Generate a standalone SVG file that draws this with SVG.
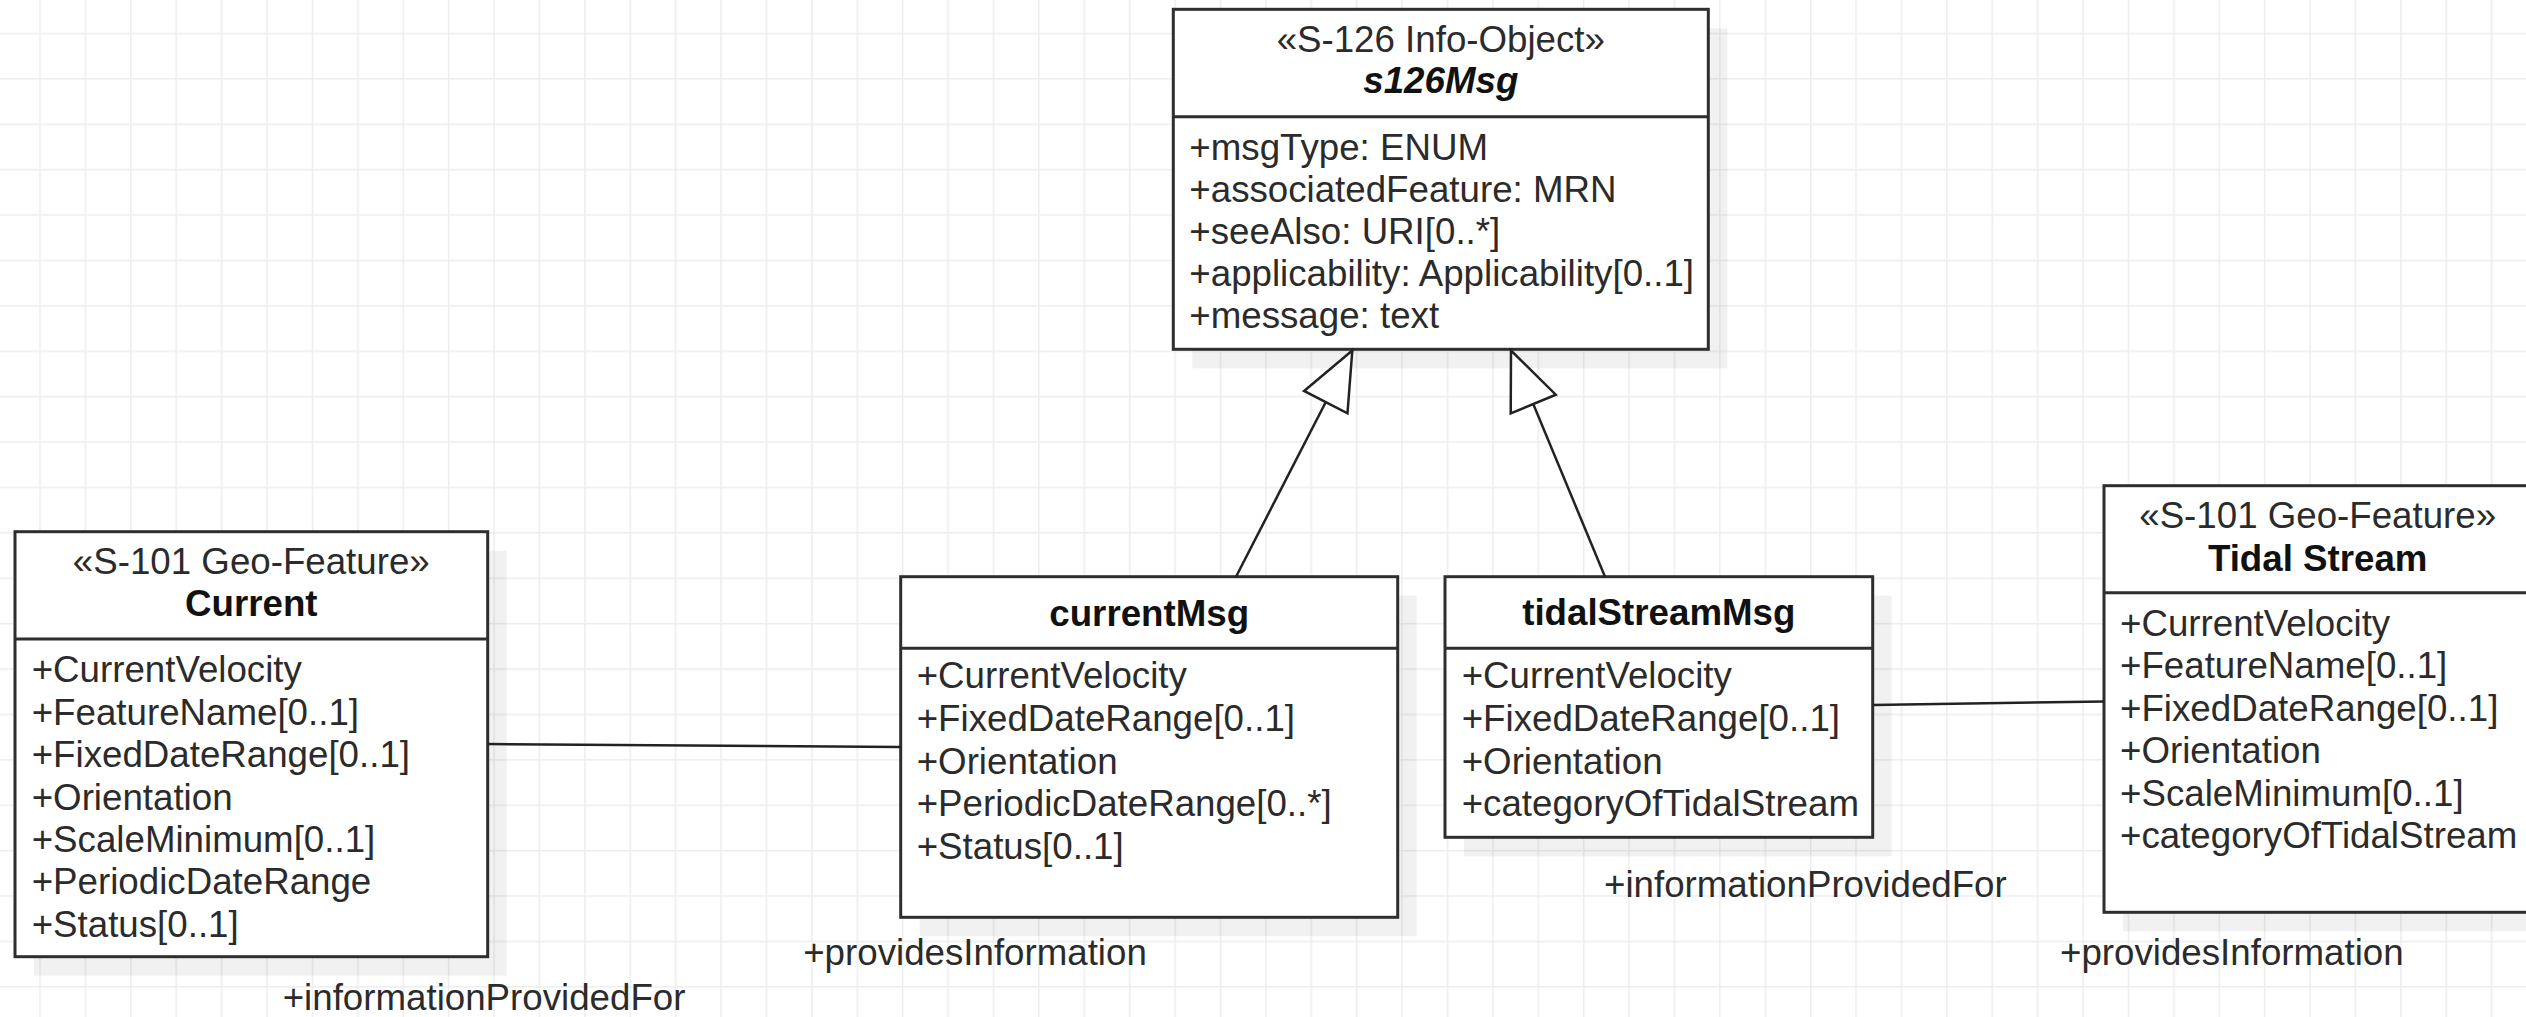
<svg xmlns="http://www.w3.org/2000/svg" width="2526" height="1017" viewBox="0 0 2526 1017">
<defs>
<style>
.box{fill:#ffffff;stroke:#2e2e2e;stroke-width:3}
.div{stroke:#2e2e2e;stroke-width:3}
.shadow{fill:#000000;fill-opacity:0.055}
text{font-family:"Liberation Sans",Arial,sans-serif;font-size:36.7px;fill:#2b2b2b}
.st{text-anchor:middle}
.title{text-anchor:middle;font-weight:bold;fill:#111111}
.ital{font-style:italic}
.conn{fill:none;stroke:#222222;stroke-width:2.5}
</style>
<pattern id="grid" patternUnits="userSpaceOnUse" x="39.3" y="32.7" width="45.4" height="45.4">
<path d="M0.75,0 V45.4 M0,0.75 H45.4" fill="none" stroke="#ededed" stroke-width="1.5"/>
</pattern>
<marker id="gen" markerUnits="userSpaceOnUse" viewBox="-62 -28 66 56" markerWidth="66" markerHeight="56" refX="0" refY="0" orient="auto">
<path d="M0,0 L-58,-24.4 L-58,24.4 Z" fill="#ffffff" stroke="#222222" stroke-width="2.5" stroke-linejoin="miter"/>
</marker>
</defs>
<rect x="0" y="0" width="2526" height="1017" fill="#ffffff"/>
<rect x="0" y="0" width="2526" height="1017" fill="url(#grid)"/>

<g id="node-s126Msg">
<rect class="shadow" x="1192.3" y="28.3" width="535" height="340"/>
<rect class="box" x="1173.3" y="9.3" width="535" height="340"/>
<line class="div" x1="1173.3" y1="116.7" x2="1708.3" y2="116.7"/>
<text class="st" x="1440.8" y="51.7">«S-126 Info-Object»</text>
<text class="title ital" x="1440.8" y="92.7">s126Msg</text>
<text x="1189.3" y="160">+msgType: ENUM</text>
<text x="1189.3" y="202">+associatedFeature: MRN</text>
<text x="1189.3" y="244">+seeAlso: URI[0..*]</text>
<text x="1189.3" y="286">+applicability: Applicability[0..1]</text>
<text x="1189.3" y="328.3">+message: text</text>
</g>

<g id="node-Current">
<rect class="shadow" x="34" y="550.7" width="472.7" height="425"/>
<rect class="box" x="15" y="531.7" width="472.7" height="425"/>
<line class="div" x1="15" y1="639" x2="487.7" y2="639"/>
<text class="st" x="251.3" y="574.3">«S-101 Geo-Feature»</text>
<text class="title" x="251.3" y="616">Current</text>
<text x="31.7" y="682.3">+CurrentVelocity</text>
<text x="31.7" y="724.7">+FeatureName[0..1]</text>
<text x="31.7" y="767.1">+FixedDateRange[0..1]</text>
<text x="31.7" y="809.5">+Orientation</text>
<text x="31.7" y="851.9">+ScaleMinimum[0..1]</text>
<text x="31.7" y="894.3">+PeriodicDateRange</text>
<text x="31.7" y="936.7">+Status[0..1]</text>
</g>

<g id="node-currentMsg">
<rect class="shadow" x="919.7" y="595.7" width="497" height="340.6"/>
<rect class="box" x="900.7" y="576.7" width="497" height="340.6"/>
<line class="div" x1="900.7" y1="648.3" x2="1397.7" y2="648.3"/>
<text class="title" x="1149.2" y="625.7">currentMsg</text>
<text x="916.7" y="688.3">+CurrentVelocity</text>
<text x="916.7" y="731">+FixedDateRange[0..1]</text>
<text x="916.7" y="773.7">+Orientation</text>
<text x="916.7" y="816.4">+PeriodicDateRange[0..*]</text>
<text x="916.7" y="859.1">+Status[0..1]</text>
</g>

<g id="node-tidalStreamMsg">
<rect class="shadow" x="1464" y="595.7" width="427.7" height="260.6"/>
<rect class="box" x="1445" y="576.7" width="427.7" height="260.6"/>
<line class="div" x1="1445" y1="648.3" x2="1872.7" y2="648.3"/>
<text class="title" x="1658.8" y="625">tidalStreamMsg</text>
<text x="1461.7" y="688.3">+CurrentVelocity</text>
<text x="1461.7" y="731">+FixedDateRange[0..1]</text>
<text x="1461.7" y="773.7">+Orientation</text>
<text x="1461.7" y="816.4">+categoryOfTidalStream</text>
</g>

<g id="node-TidalStream">
<rect class="shadow" x="2123" y="504.7" width="427.4" height="426.6"/>
<rect class="box" x="2104" y="485.7" width="427.4" height="426.6"/>
<line class="div" x1="2104" y1="592.8" x2="2531.4" y2="592.8"/>
<text class="st" x="2317.7" y="528">«S-101 Geo-Feature»</text>
<text class="title" x="2317.7" y="570.5">Tidal Stream</text>
<text x="2120" y="635.7">+CurrentVelocity</text>
<text x="2120" y="678.2">+FeatureName[0..1]</text>
<text x="2120" y="720.7">+FixedDateRange[0..1]</text>
<text x="2120" y="763.2">+Orientation</text>
<text x="2120" y="805.7">+ScaleMinimum[0..1]</text>
<text x="2120" y="848.2">+categoryOfTidalStream</text>
</g>

<g id="connectors">
<line class="conn" x1="1236" y1="576.7" x2="1352.3" y2="350.5" marker-end="url(#gen)"/>
<line class="conn" x1="1605" y1="576.7" x2="1511" y2="350.5" marker-end="url(#gen)"/>
<line class="conn" x1="487.7" y1="744" x2="900.7" y2="747"/>
<line class="conn" x1="1872.7" y1="705" x2="2104" y2="701.5"/>
<text x="282.7" y="1010">+informationProvidedFor</text>
<text x="803.2" y="965">+providesInformation</text>
<text x="1604" y="897">+informationProvidedFor</text>
<text x="2060" y="965">+providesInformation</text>
</g>
</svg>
